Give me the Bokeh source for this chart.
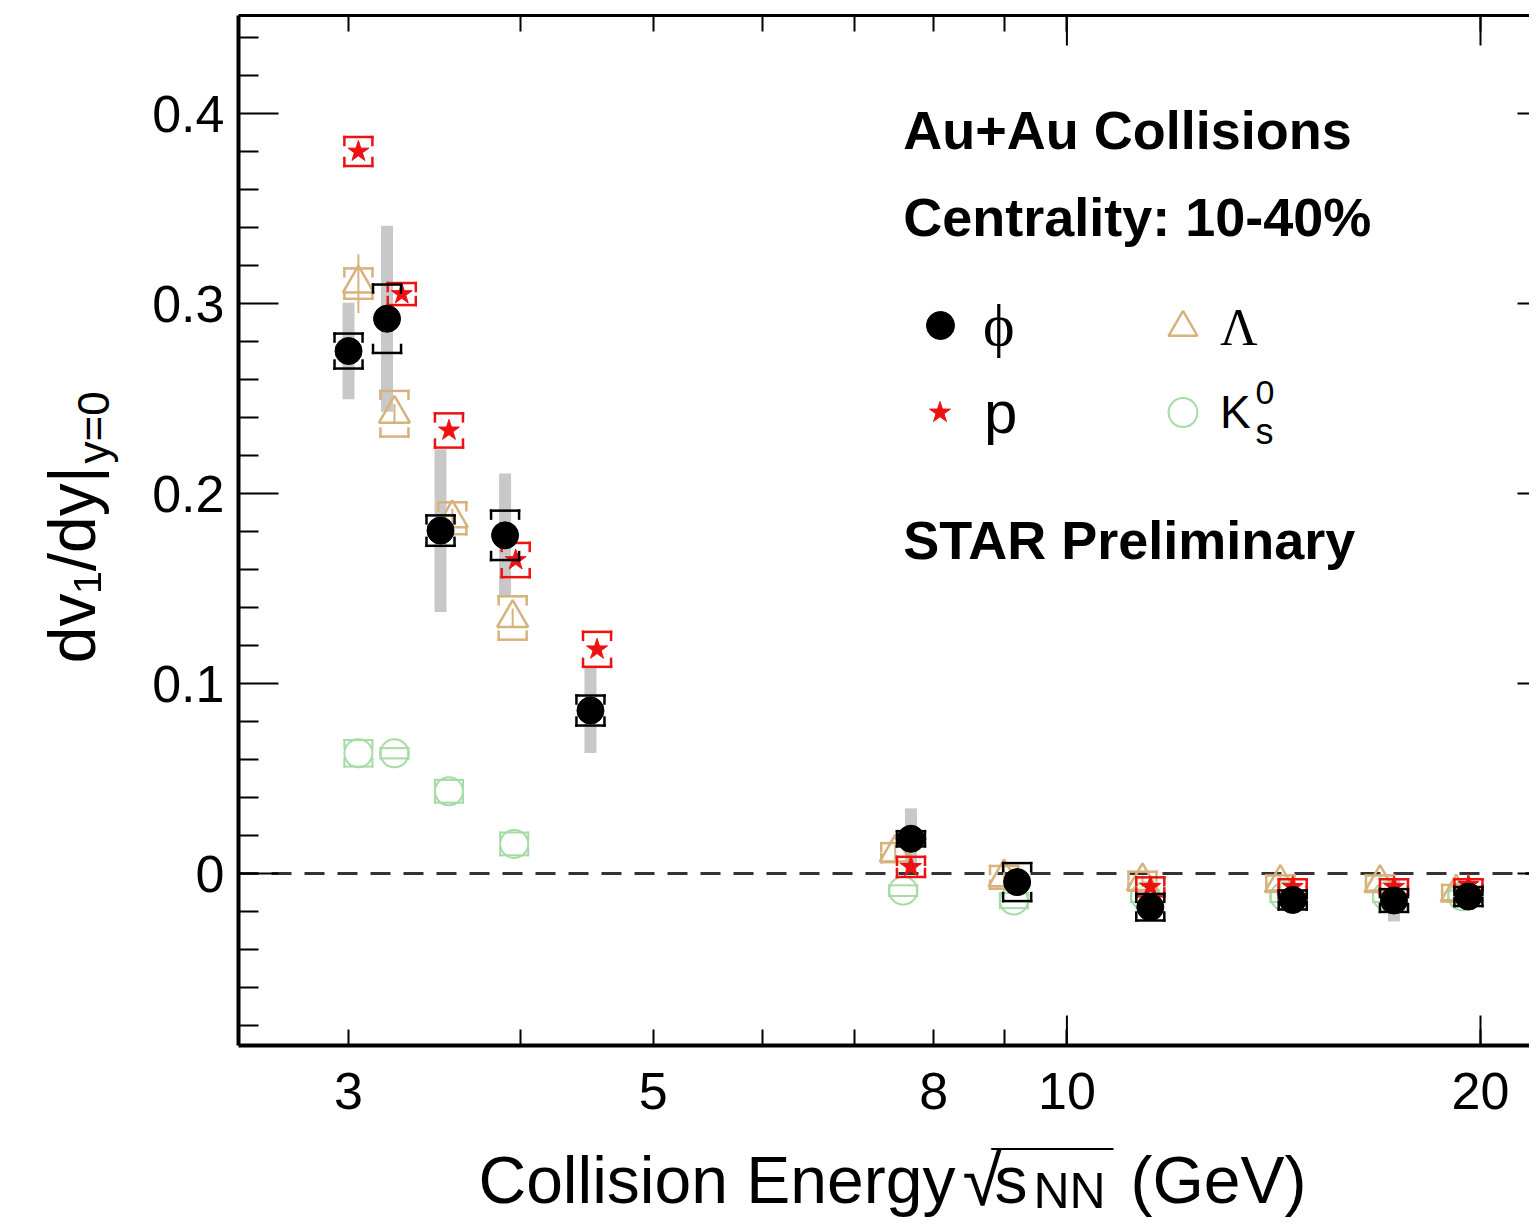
import math
from bokeh.plotting import figure
from bokeh.layouts import row, column
from bokeh.models import (Range1d, FixedTicker, LinearAxis, LogAxis, Span, Label,
                          Legend, LegendItem, ColumnDataSource)
from bokeh.embed import file_html
from bokeh.resources import INLINE

# ---------------- data ----------------
PHI_E = [3.0, 3.2, 3.5, 3.9, 4.5, 7.7, 9.2, 11.5, 14.6, 17.3, 19.6]
PHI_V = [0.275, 0.292, 0.1805, 0.178, 0.0858, 0.0183, -0.0045, -0.0177, -0.0139, -0.0142, -0.0121]
PHI_STAT = [0.0254, 0.0489, 0.0428, 0.0325, 0.0224, 0.016, 0.005, 0.005, 0.005, 0.011, 0.005]
PHI_SYS = [0.0092, 0.018, 0.008, 0.013, 0.0079, 0.004, 0.010, 0.007, 0.005, 0.006, 0.005]

P_E = [3.05, 3.28, 3.55, 3.97, 4.55, 7.7, 11.5, 14.6, 17.3, 19.6]
P_V = [0.380, 0.305, 0.2332, 0.165, 0.118, 0.0035, -0.007, -0.007, -0.007, -0.006]
P_SYS = [0.0076, 0.0058, 0.009, 0.009, 0.0092, 0.0053, 0.005, 0.004, 0.004, 0.003]

L_E = [3.05, 3.24, 3.57, 3.95, 7.5, 9.0, 11.35, 14.3, 16.9, 19.2]
L_V = [0.3105, 0.242, 0.187, 0.1345, 0.011, -0.002, -0.004, -0.005, -0.005, -0.010]
L_STAT = [0.0155, 0.005, 0.005, 0.005, 0.004, 0.004, 0.003, 0.003, 0.003, 0.003]
L_SYS = [0.008, 0.012, 0.0084, 0.0114, 0.005, 0.006, 0.005, 0.004, 0.004, 0.004]

K_E = [3.05, 3.24, 3.55, 3.96, 7.6, 9.15, 11.4, 14.4, 17.1, 19.4]
K_V = [0.0633, 0.0633, 0.0433, 0.0156, -0.009, -0.0142, -0.012, -0.012, -0.012, -0.012]
K_SYS = [0.007, 0.0027, 0.006, 0.006, 0.0028, 0.004, 0.003, 0.003, 0.003, 0.003]

X_TICKS = [3, 5, 8, 10, 20]
X_TICK_LABELS = ["3", "5", "8", "10", "20"]
X_MINOR = [4, 6, 7, 9]
X_LONG = [10, 20]
Y_TICKS = [0, 0.1, 0.2, 0.3, 0.4]
Y_TICK_LABELS = ["0", "0.1", "0.2", "0.3", "0.4"]

# ---------------- style ----------------
FONT = "Liberation Sans"
SERIF = "Liberation Serif"
RED = "#ee1111"
TAN = "#d6b27c"
GREEN = "#a6dba6"
GREY = "#c8c8c8"
XMIN, XMAX = 2.4948, 21.712
YMIN, YMAX = -0.0905, 0.4516
BOX_HALF_DEC = 0.0102   # half width of systematic boxes (decades)
BOX_TICK = 0.0042       # bracket tick length (data units)
BASE_FIX = 0.38         # label baseline correction (fraction of font size)
ROT_FIX = 0.74          # along-text correction for rotated, left-anchored labels
PX_PER_Y = 1900.0

MAIN_W, MAIN_H = 1391, 1135
YLAB_W = 138
XLAB_H = 85

p = figure(width=MAIN_W, height=MAIN_H, x_axis_type="log",
           x_range=Range1d(XMIN, XMAX), y_range=Range1d(YMIN, YMAX),
           output_backend="svg", toolbar_location=None,
           min_border_left=100, min_border_right=0, min_border_top=15,
           min_border_bottom=90)
p.outline_line_color = None
p.grid.visible = False


def style_axis(ax, tin, minin, lw, labels):
    ax.major_tick_in = tin
    ax.major_tick_out = 0
    ax.minor_tick_in = minin
    ax.minor_tick_out = 0
    ax.major_tick_line_width = 2
    ax.minor_tick_line_width = 2
    ax.major_tick_line_color = "black"
    ax.minor_tick_line_color = "black"
    ax.axis_line_width = lw
    ax.axis_line_color = "black"
    ax.axis_label = None
    if labels:
        ax.major_label_text_font = FONT
        ax.major_label_text_font_size = "52px"
        ax.major_label_text_color = "black"
    else:
        ax.major_label_text_font_size = "0px"
        ax.major_label_text_color = None
        ax.major_label_standoff = 0


y_minor = [round(-0.08 + 0.02 * i, 2) for i in range(27)]
y_minor = [t for t in y_minor if all(abs(t - m) > 1e-9 for m in Y_TICKS)]

xb = p.xaxis[0]
xb.ticker = FixedTicker(ticks=X_TICKS, minor_ticks=X_MINOR)
xb.major_label_overrides = {t: l for t, l in zip(X_TICKS, X_TICK_LABELS)}
style_axis(xb, 16, 16, 4, True)
xb.major_label_standoff = 27

yl = p.yaxis[0]
yl.ticker = FixedTicker(ticks=Y_TICKS, minor_ticks=y_minor)
yl.major_label_overrides = {t: l for t, l in zip(Y_TICKS, Y_TICK_LABELS)}
style_axis(yl, 40, 20, 4, True)
yl.major_label_standoff = 14

xa = LogAxis(ticker=FixedTicker(ticks=X_TICKS, minor_ticks=X_MINOR))
style_axis(xa, 16, 16, 3, False)
p.add_layout(xa, "above")

yr = LinearAxis(ticker=FixedTicker(ticks=Y_TICKS, minor_ticks=[]))
style_axis(yr, 12, 0, 0, False)
yr.axis_line_color = None
p.add_layout(yr, "right")

# longer ticks at 10 and 20 (bottom and top)
p.segment(x0=X_LONG, y0=[YMIN] * 2, x1=X_LONG, y1=[YMIN + 30 / PX_PER_Y] * 2,
          line_color="black", line_width=2)
p.segment(x0=X_LONG, y0=[YMAX] * 2, x1=X_LONG, y1=[YMAX - 30 / PX_PER_Y] * 2,
          line_color="black", line_width=2)

p.add_layout(Span(location=0, dimension="width", line_color="#333333",
                  line_width=3, line_dash="20 13", level="underlay"))


def brackets(xs, ys, ss):
    f = 10 ** BOX_HALF_DEC
    x0, y0, x1, y1 = [], [], [], []
    for x, y, s in zip(xs, ys, ss):
        xl, xr = x / f, x * f
        t = min(BOX_TICK, s)
        for yy, d in ((y + s, -t), (y - s, t)):
            x0 += [xl, xl, xr]
            y0 += [yy, yy, yy]
            x1 += [xr, xl, xr]
            y1 += [yy, yy + d, yy + d]
    return ColumnDataSource(dict(x0=x0, y0=y0, x1=x1, y1=y1))


# phi statistical bars (grey)
p.segment(x0=PHI_E, x1=PHI_E,
          y0=[v - s for v, s in zip(PHI_V, PHI_STAT)],
          y1=[v + s for v, s in zip(PHI_V, PHI_STAT)],
          line_color=GREY, line_width=12, line_cap="butt")

# K0s
p.segment(x0="x0", y0="y0", x1="x1", y1="y1", source=brackets(K_E, K_V, K_SYS),
          line_color=GREEN, line_width=2, line_cap="square")
rK = p.scatter(K_E, K_V, marker="circle", size=28, fill_color=None,
               line_color=GREEN, line_width=2)

# Lambda
p.segment(x0=L_E, x1=L_E,
          y0=[v - s for v, s in zip(L_V, L_STAT)],
          y1=[v + s for v, s in zip(L_V, L_STAT)],
          line_color=TAN, line_width=2)
p.segment(x0="x0", y0="y0", x1="x1", y1="y1", source=brackets(L_E, L_V, L_SYS),
          line_color=TAN, line_width=2.5, line_cap="square")
rL = p.scatter(L_E, L_V, marker="triangle", size=31, fill_color=None,
               line_color=TAN, line_width=2.5)

# protons
p.segment(x0="x0", y0="y0", x1="x1", y1="y1", source=brackets(P_E, P_V, P_SYS),
          line_color=RED, line_width=2.5, line_cap="square")
rP = p.scatter(P_E, P_V, marker="star", size=22, fill_color=RED, line_color=RED)

# phi
p.segment(x0="x0", y0="y0", x1="x1", y1="y1", source=brackets(PHI_E, PHI_V, PHI_SYS),
          line_color="black", line_width=2.5, line_cap="square")
rPhi = p.scatter(PHI_E, PHI_V, marker="circle", size=27, fill_color="black",
                 line_color="black")


# ---------------- legend (four single-entry legends) ----------------
def add_legend(renderer, text, font, fsize, msize, loc, standoff):
    lg = Legend(items=[LegendItem(label=text, renderers=[renderer])],
                location=loc, glyph_width=int(round(msize / 0.4)), glyph_height=72,
                label_height=72, label_standoff=standoff, padding=0, margin=0,
                spacing=0, background_fill_alpha=0, border_line_alpha=0,
                label_text_font=font, label_text_font_size=f"{fsize}px",
                label_text_color="black")
    p.add_layout(lg)


add_legend(rPhi, "ϕ", SERIF, 60, 28, (667, 684), 8)
add_legend(rP, "p", FONT, 60, 22, (674, 597), 17)
add_legend(rL, "Λ", SERIF, 52, 30, (907, 682), 0)
add_legend(rK, "K", FONT, 46, 30, (907, 597), 0)


def lab(fig, x, y, text, size, bold=False, angle=0.0, font=FONT,
        align="left", baseline="alphabetic"):
    fig.add_layout(Label(x=x, y=y, x_units="data", y_units="data", text=text,
                         text_font=font, text_font_size=f"{size}px",
                         text_font_style="bold" if bold else "normal",
                         angle=angle, text_align=align, text_baseline=baseline,
                         text_color="black"))


def ylift(size):
    return BASE_FIX * size / PX_PER_Y


# K0s super/subscript
lab(p, 13.72, 0.2463 + ylift(34), "0", 34)
lab(p, 13.72, 0.2253 + ylift(36), "s", 36)

# annotations
lab(p, 7.6, 0.3808 + ylift(54), "Au+Au Collisions", 54, bold=True)
lab(p, 7.6, 0.3345 + ylift(54), "Centrality: 10-40%", 54, bold=True)
lab(p, 7.6, 0.1645 + ylift(54), "STAR Preliminary", 54, bold=True)


# ---------------- axis titles in their own text panels ----------------
def text_panel(w, h):
    f = figure(width=w, height=h, x_range=Range1d(0, w), y_range=Range1d(0, h),
               x_axis_type=None, y_axis_type=None, output_backend="svg",
               toolbar_location=None, min_border=0)
    f.outline_line_color = None
    f.grid.visible = False
    return f


ylab = text_panel(YLAB_W, MAIN_H)
up = math.pi / 2
# y title: dv1/dy|y=0 (reading upwards), starts given in panel pixels
for text, size, base_x, start in [("dv₁/dy|", 66, 97, 665),
                                  ("y=0", 44, 110, 461)]:
    lab(ylab, base_x - BASE_FIX * size, MAIN_H - (start + ROT_FIX * size), text, size,
        angle=up)

TOTAL_W = YLAB_W + MAIN_W
xlab = text_panel(TOTAL_W, XLAB_H)
bottom = MAIN_H + XLAB_H
# x title: Collision Energy sqrt(s_NN) (GeV)
lab(xlab, 478, bottom - 1205 + BASE_FIX * 66, "Collision Energy", 66)
lab(xlab, 962, bottom - 1207 + BASE_FIX * 72, "√", 72)
lab(xlab, 991, bottom - 1183 + BASE_FIX * 44, "¯¯¯¯¯", 44)
lab(xlab, 994, bottom - 1205 + BASE_FIX * 66, "s", 66)
lab(xlab, 1033, bottom - 1209 + BASE_FIX * 50, "NN", 50)
lab(xlab, 1130, bottom - 1205 + BASE_FIX * 66, "(GeV)", 66)

layout = column(row(ylab, p, spacing=0), xlab, spacing=0)
open("out.html", "w").write(file_html(layout, INLINE))
